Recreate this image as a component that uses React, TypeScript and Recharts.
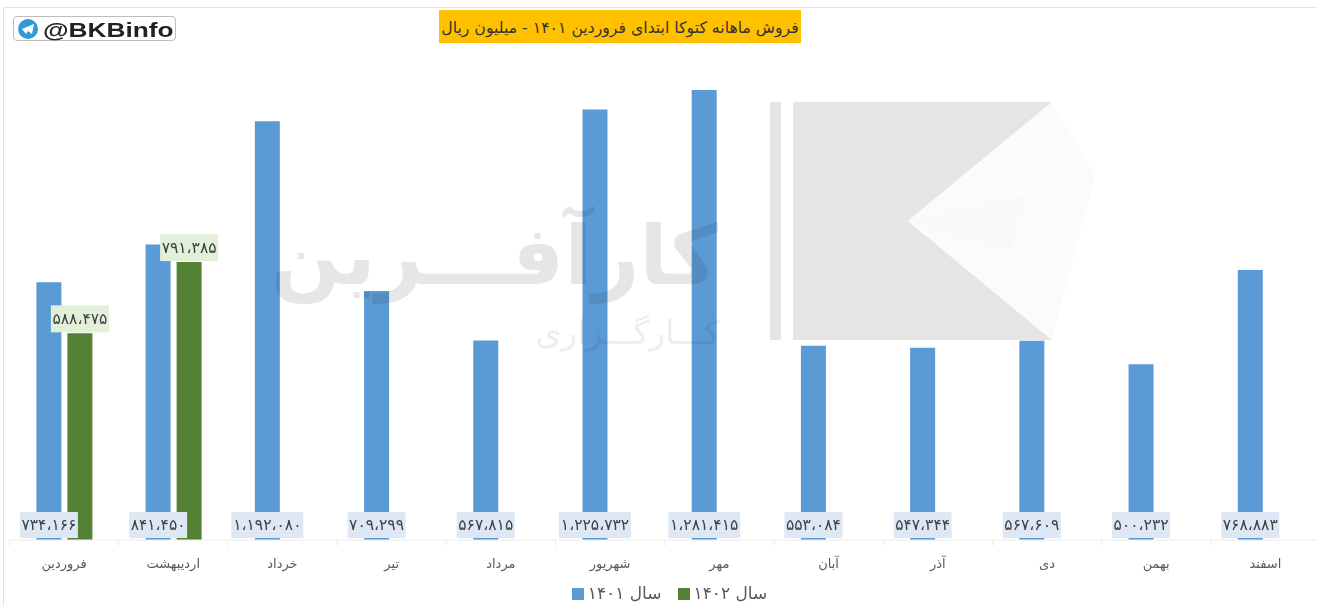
import React from "react";
import { BarChart, Bar, XAxis, YAxis, Legend, LabelList } from "recharts";

const months = ["فروردین", "اردیبهشت", "خرداد", "تیر", "مرداد", "شهریور", "مهر", "آبان", "آذر", "دی", "بهمن", "اسفند"];
const sales1401 = [734166, 841450, 1192080, 709299, 567815, 1225732, 1281415, 553084, 547344, 567609, 500232, 768883];
const sales1402: (number | null)[] = [588475, 791385, null, null, null, null, null, null, null, null, null, null];

const chartData = months.map((month, i) => ({ month, y1401: sales1401[i], y1402: sales1402[i] }));

const FONT = "'DejaVu Sans', 'Noto Sans', sans-serif";
const CAT_STEP = 109.2;

// persian digits with the small separator used in the picture
const toFa = (v: number) =>
  String(v)
    .replace(/\B(?=(\d{3})+$)/g, "،")
    .replace(/\d/g, (d) => "۰۱۲۳۴۵۶۷۸۹"[Number(d)]);

function BaseLabel(props: any) {
  const { x, y, width, height, value } = props;
  if (value == null) return null;
  const text = toFa(value);
  const w = text.length * 7 + 9;
  const cx = x + width / 2;
  const bottom = y + height;
  return (
    <g>
      <rect x={cx - w / 2} y={bottom - 28} width={w} height={26} fill="#dee8f4" />
      <text x={cx} y={bottom - 10} textAnchor="middle" fontSize={15.5} fontFamily={FONT} fill="#404040">
        {text}
      </text>
    </g>
  );
}

function TopLabel(props: any) {
  const { x, y, width, value } = props;
  if (value == null) return null;
  const text = toFa(value);
  const w = text.length * 7 + 9;
  const cx = x + width / 2;
  return (
    <g>
      <rect x={cx - w / 2} y={y - 28} width={w} height={27} fill="#e2efd9" />
      <text x={cx} y={y - 9} textAnchor="middle" fontSize={15.5} fontFamily={FONT} fill="#404040">
        {text}
      </text>
    </g>
  );
}

function MonthTick(props: any) {
  const { x, y, payload, index } = props;
  const top = y - 8;
  return (
    <g>
      <line x1={x - CAT_STEP / 2} x2={x - CAT_STEP / 2} y1={top} y2={top + 6} stroke="#ececec" />
      {index === months.length - 1 && <line x1={x + CAT_STEP / 2} x2={x + CAT_STEP / 2} y1={top} y2={top + 6} stroke="#ececec" />}
      <text x={x} y={top + 28} textAnchor="middle" fontSize={13} fontFamily={FONT} fill="#595959">
        {payload.value}
      </text>
    </g>
  );
}

function Watermark() {
  return (
    <svg width={1317} height={606} style={{ position: "absolute", left: 0, top: 0, mixBlendMode: "multiply", pointerEvents: "none" }}>
      <rect x={770} y={102} width={11} height={238} fill="#e5e5e5" />
      <polygon points="793,102 1052,102 908,221 1052,340 793,340" fill="#e5e5e5" />
      <polygon points="1052,102 1095,175 1052,340 908,221" fill="#fbfbfb" />
      <polygon points="908,221 1010,253 1026,195" fill="#f9f9f9" />
      <text x={718} y={284} textAnchor="start" fontSize={82} fontWeight="bold" fontFamily={FONT} fill="#e6e6e6" direction="rtl">
        کارآفـــرین
      </text>
      <text x={720} y={344} textAnchor="start" fontSize={33} fontFamily={FONT} fill="#eeeeee" direction="rtl">
        کـــارگـــزاری
      </text>
    </svg>
  );
}

export default function App() {
  return (
    <div style={{ position: "absolute", left: 0, top: 0, width: 1317, height: 606, overflow: "hidden", background: "#fff" }}>
      <div style={{ position: "absolute", left: 3, top: 7, right: 0, bottom: 0, borderLeft: "1px solid #e2e2e2", borderTop: "1px solid #e2e2e2" }} />
      <BarChart
        width={1330}
        height={606}
        data={chartData}
        barSize={25}
        barGap={6}
        margin={{ top: 90, right: 10, bottom: 0, left: 9.4 }}
        style={{ position: "absolute", left: 0, top: 0 }}
      >
        <XAxis dataKey="month" axisLine={{ stroke: "#ececec" }} tickLine={false} tick={<MonthTick />} interval={0} height={36} />
        <YAxis hide domain={[0, 1281415]} />
        <Legend
          verticalAlign="bottom"
          iconType="square"
          iconSize={12}
          height={30}
          wrapperStyle={{ fontFamily: FONT, fontSize: 17, left: 19, width: 1317, bottom: -7 }}
          formatter={(value: string) => <span style={{ color: "#595959", marginRight: 6 }}>{value}</span>}
        />
        <Bar dataKey="y1401" name="سال ۱۴۰۱" fill="#5b9bd5" isAnimationActive={false}>
          <LabelList dataKey="y1401" content={<BaseLabel />} />
        </Bar>
        <Bar dataKey="y1402" name="سال ۱۴۰۲" fill="#548235" isAnimationActive={false}>
          <LabelList dataKey="y1402" content={<TopLabel />} />
        </Bar>
      </BarChart>
      <Watermark />
      <div
        style={{
          position: "absolute", left: 439, top: 10, width: 362, height: 33, background: "#ffc000",
          fontFamily: FONT, fontSize: 15.7, lineHeight: "35px", textAlign: "center", color: "#333", direction: "rtl", whiteSpace: "nowrap",
        }}
      >
        فروش ماهانه کتوکا ابتدای فروردین ۱۴۰۱ - میلیون ریال
      </div>
      <div
        style={{
          position: "absolute", left: 13, top: 16, width: 161, height: 23, border: "1.5px solid #bdbdbd", borderRadius: 4,
          fontFamily: "'Liberation Sans', sans-serif", fontWeight: "bold", fontSize: 21, lineHeight: "25px", color: "#222", whiteSpace: "nowrap",
        }}
      >
        <svg width={22} height={22} style={{ position: "absolute", left: 3, top: 1 }}>
          <circle cx={11} cy={11} r={10} fill="#2f9bd6" />
          <polygon points="5,11 17,6 15,16 11,13 9,16" fill="#fff" />
        </svg>
        <span style={{ position: "absolute", left: 29, transform: "scaleX(1.25)", transformOrigin: "left center" }}>@BKBinfo</span>
      </div>
    </div>
  );
}
